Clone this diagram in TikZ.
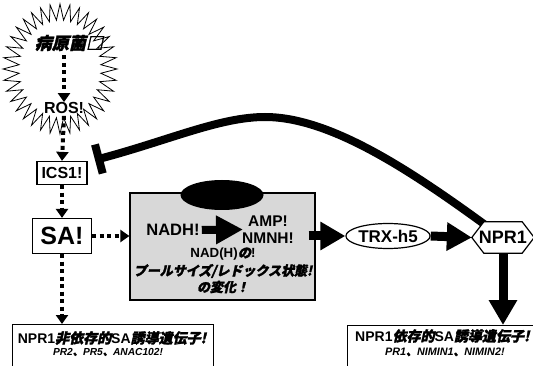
\documentclass[tikz,border=0pt]{standalone}
\usepackage{fontspec}
\setmainfont{Liberation Sans}
\newfontfamily\jp{Noto Sans CJK JP}[FakeSlant=0.22,FakeBold=2]
\usetikzlibrary{arrows.meta,shapes.geometric,calc}
\newcommand\J[1]{{\jp #1}}
\newcommand\fs[1]{\fontsize{#1}{#1}\selectfont}
\definecolor{boxgray}{RGB}{216,216,216}
\pgfdeclarelayer{bg}
\pgfsetlayers{bg,main}
\begin{document}
\begin{tikzpicture}[x=1pt,y=-1pt,
  every node/.style={font=\bfseries, inner sep=0pt},
  dotarrow/.style={line width=4pt, dash pattern=on 4pt off 3.5pt, -{Triangle[width=12pt,length=9pt]}},
  thickarrow/.style={line width=9pt, -{Triangle[width=27pt,length=25pt]}},
  plainbox/.style={draw, line width=1.2pt, fill=white},
]
\useasboundingbox (0,0) rectangle (533,366);
\clip (0,0) rectangle (533,366);

% starburst
\draw[line width=0.8pt, fill=white] plot[domain=0:71, samples=72]
  ({60+(57-16*mod(\x,2))*cos(\x*5)}, {69+(65-16*mod(\x,2))*sin(\x*5)}) -- cycle;
\node[font=\bfseries\fs{17}] (path) at (69,43) {\J{病原菌□}};
\node[font=\bfseries\fs{16}] (ros) at (64,108) {ROS!};

% left column
\node[plainbox, minimum width=50pt, minimum height=23pt, font=\bfseries\fs{16}] (ics) at (62,173) {ICS1!};
\node[plainbox, minimum width=59pt, minimum height=35pt, font=\bfseries\fs{25}] (sa) at (62,236) {SA!};

% grey box
\node[draw, line width=1.2pt, fill=boxgray, minimum width=185pt, minimum height=107pt] (gb) at (222.5,246.5) {};
\node[ellipse, fill=black, minimum width=83pt, minimum height=30pt] (ov) at (222,195) {};
\node[font=\bfseries\fs{16.5}] (nadh) at (173,230) {NADH!};
\node[font=\bfseries\fs{15.5}] (amp) at (268,221) {AMP!};
\node[font=\bfseries\fs{15.5}] (nmnh) at (268,238) {NMNH!};
\node[font=\bfseries\fs{13.3}] (t1) at (223,254) {NAD(H)\J{の}!};
\node[font=\bfseries\fs{13}] (t2) at (223,271) {\J{プールサイズ/レドックス状態!}};
\node[font=\bfseries\fs{13}] (t3) at (223,287) {\J{の変化！}};

% right part
\node[ellipse, draw, line width=1.2pt, minimum width=74pt, minimum height=25pt, font=\bfseries\fs{17}] (trx) at (388,236) {TRX-h5};
\node[minimum width=62pt, minimum height=31pt, font=\bfseries\fs{18}] (npr) at (503,237.5) {NPR1};

% bottom boxes
\node[draw, line width=1.2pt, minimum width=201pt, minimum height=60pt, anchor=north west] (bl) at (12,324) {};
\node[font=\bfseries\fs{14}] (bl1) at (112,338) {NPR1\J{非依存的}SA\J{誘導遺伝子!}};
\node[font=\bfseries\itshape\fs{10.2}] (bl2) at (108,352) {PR2\J{、}PR5\J{、}ANAC102!};
\node[draw, line width=1.2pt, minimum width=200pt, minimum height=60pt, anchor=north west] (br) at (347,325) {};
\node[font=\bfseries\fs{14}, anchor=west] (br1) at (355,336) {NPR1\J{依存的}SA\J{誘導遺伝子!}};
\node[font=\bfseries\itshape\fs{10.8}, anchor=west] (br2) at (385,352) {PR1\J{、}NIMIN1\J{、}NIMIN2!};

% inhibition curve and hexagon (background layer)
\coordinate (inhend) at (95,160);
\begin{pgfonlayer}{bg}
\draw[line width=8pt, -{Bar[width=30pt]}] ($(npr.north west)+(16,5)$) .. controls (410,170) and (330,117) .. (265,117)
  .. controls (220,117) and (170,140) .. (inhend);
\draw[line width=1.2pt, fill=white] (npr.west) -- ($(npr.north west)+(12,0)$) -- ($(npr.north east)+(-12,0)$)
  -- (npr.east) -- ($(npr.south east)+(-12,0)$) -- ($(npr.south west)+(12,0)$) -- cycle;
\end{pgfonlayer}

% dotted arrows
\draw[dotarrow] (path.south -| ros) ++(0,4) -- (ros.north);
\draw[dotarrow] (ros.south) ++(0,2) -- (ics.north);
\draw[dotarrow] (ics.south) -- (sa.north);
\draw[dotarrow] (sa.east) -- (gb.west |- sa.east);
\draw[dotarrow] (sa.south) -- (sa.south |- bl.north);

% thick arrows
\draw[line width=8pt, -{Triangle[width=27pt,length=27pt]}] (nadh.east) ++(2,0) -- ($(amp.west)!0.5!(nmnh.west)+(-2,0)$);
\draw[thickarrow] (gb.east |- trx) ++(-7,0) -- (trx.west);
\draw[thickarrow] (trx.east) -- (npr.west);
\draw[thickarrow] (npr.south) -- (npr.south |- br.north);
\end{tikzpicture}
\end{document}
